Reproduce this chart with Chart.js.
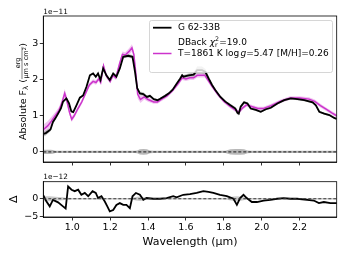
<!DOCTYPE html>
<html><head><meta charset="utf-8">
<script src="https://cdn.jsdelivr.net/npm/chart.js@4/dist/chart.umd.min.js"></script>
<style>
html,body{margin:0;padding:0;background:#fff;width:345px;height:259px;overflow:hidden}
#top{position:absolute;left:0;top:0}
#bot{position:absolute;left:0;top:170px}
</style></head><body>
<canvas id="top" width="345" height="170"></canvas>
<canvas id="bot" width="345" height="89"></canvas>
<script>
// ---------- DATA ----------
const xTicks = [1.0, 1.2, 1.4, 1.6, 1.8, 2.0, 2.2];
const yTicksTop = [0, 1, 2, 3];
const yTicksBot = [-5, 0];
const obsName = 'G 62-33B';
const fitName = 'DBack';
const chi2 = '19.0';
const modelName = 'T=1861 K log g=5.47 [M/H]=0.26';

// observed spectrum (1e-11)
const obsWave = [0.848,0.86,0.875,0.885,0.898,0.91,0.925,0.94,0.951,0.969,0.983,0.995,1.005,1.022,1.04,1.057,1.075,1.093,1.11,1.124,1.136,1.149,1.163,1.18,1.198,1.216,1.233,1.251,1.269,1.295,1.318,1.331,1.343,1.357,1.375,1.394,1.41,1.43,1.45,1.464,1.49,1.51,1.53,1.55,1.57,1.58,1.587,1.614,1.641,1.659,1.685,1.703,1.72,1.738,1.755,1.782,1.808,1.835,1.861,1.872,1.879,1.889,1.907,1.925,1.942,1.969,1.995,2.022,2.048,2.083,2.119,2.154,2.189,2.225,2.269,2.286,2.304,2.33,2.357,2.383,2.396];
const obsFlux = [0.50,0.52,0.58,0.62,0.83,0.92,1.06,1.20,1.39,1.48,1.34,1.12,1.10,1.29,1.50,1.56,1.80,2.12,2.17,2.08,2.17,1.99,2.31,2.12,1.99,2.17,2.08,2.31,2.63,2.66,2.63,2.22,1.76,1.62,1.60,1.52,1.55,1.46,1.43,1.47,1.55,1.62,1.72,1.88,2.03,2.12,2.08,2.12,2.14,2.26,2.26,2.21,2.03,1.85,1.71,1.52,1.39,1.29,1.20,1.08,1.06,1.25,1.37,1.34,1.20,1.16,1.11,1.18,1.22,1.34,1.43,1.48,1.46,1.43,1.37,1.29,1.11,1.06,1.02,0.94,0.91];
const obsErr = [0.08,0.07,0.06,0.05,0.05,0.04,0.04,0.04,0.04,0.04,0.04,0.04,0.03,0.03,0.03,0.03,0.03,0.03,0.03,0.03,0.03,0.03,0.03,0.03,0.03,0.03,0.03,0.03,0.04,0.05,0.05,0.05,0.05,0.05,0.05,0.04,0.04,0.03,0.03,0.03,0.03,0.03,0.03,0.03,0.04,0.05,0.05,0.05,0.06,0.10,0.10,0.08,0.05,0.04,0.03,0.03,0.03,0.04,0.04,0.05,0.05,0.05,0.04,0.03,0.03,0.03,0.03,0.03,0.03,0.03,0.03,0.03,0.03,0.03,0.03,0.03,0.03,0.03,0.03,0.03,0.03];
// noise level drawn around zero (1e-11)
const noiseLevel = [0.06,0.06,0.06,0.06,0.05,0.03,0.03,0.03,0.03,0.03,0.03,0.03,0.03,0.03,0.03,0.03,0.03,0.03,0.03,0.03,0.03,0.03,0.03,0.03,0.03,0.03,0.03,0.03,0.03,0.03,0.03,0.03,0.04,0.07,0.08,0.07,0.04,0.03,0.03,0.03,0.03,0.03,0.03,0.03,0.03,0.03,0.03,0.03,0.03,0.03,0.03,0.03,0.03,0.03,0.03,0.03,0.03,0.07,0.08,0.08,0.08,0.08,0.07,0.04,0.03,0.03,0.03,0.03,0.03,0.03,0.03,0.03,0.03,0.03,0.03,0.03,0.03,0.03,0.03,0.03,0.03];

// model spectrum (1e-11)
const modelWave = [0.848,0.87,0.89,0.91,0.93,0.945,0.96,0.97,0.985,0.997,1.01,1.03,1.05,1.07,1.09,1.11,1.125,1.14,1.15,1.165,1.18,1.2,1.215,1.23,1.25,1.265,1.28,1.3,1.315,1.325,1.335,1.345,1.36,1.38,1.4,1.43,1.45,1.47,1.5,1.53,1.56,1.58,1.6,1.62,1.64,1.66,1.68,1.7,1.715,1.74,1.77,1.8,1.83,1.86,1.88,1.9,1.92,1.95,1.98,2.01,2.05,2.1,2.15,2.2,2.25,2.28,2.31,2.34,2.37,2.396];
const modelFlux = [0.62,0.72,0.85,1.00,1.15,1.35,1.62,1.45,1.10,0.90,1.00,1.20,1.38,1.62,1.85,1.95,1.92,2.02,1.92,2.38,2.10,1.95,2.12,2.05,2.45,2.70,2.68,2.78,2.88,2.70,2.20,1.60,1.45,1.52,1.45,1.38,1.38,1.45,1.55,1.70,1.90,2.05,2.02,2.05,2.05,2.12,2.12,2.12,2.00,1.80,1.58,1.40,1.27,1.16,1.10,1.22,1.30,1.25,1.20,1.20,1.28,1.40,1.49,1.49,1.46,1.40,1.28,1.18,1.08,1.00];
const modelErr = [0.14,0.13,0.12,0.10,0.09,0.10,0.12,0.10,0.08,0.07,0.06,0.06,0.06,0.06,0.06,0.06,0.06,0.06,0.06,0.07,0.06,0.06,0.06,0.06,0.07,0.08,0.08,0.09,0.10,0.10,0.10,0.12,0.10,0.07,0.06,0.05,0.05,0.05,0.05,0.05,0.06,0.06,0.06,0.06,0.06,0.06,0.06,0.06,0.06,0.05,0.05,0.05,0.05,0.05,0.05,0.05,0.05,0.05,0.05,0.05,0.05,0.05,0.05,0.05,0.05,0.05,0.05,0.05,0.05,0.05];

// residuals (1e-12)
const residWave = [0.846,0.863,0.881,0.898,0.925,0.951,0.965,0.978,0.996,1.013,1.031,1.048,1.066,1.084,1.107,1.124,1.136,1.154,1.171,1.185,1.198,1.216,1.233,1.251,1.269,1.286,1.304,1.318,1.336,1.357,1.375,1.392,1.427,1.463,1.498,1.533,1.551,1.586,1.621,1.657,1.692,1.719,1.745,1.78,1.816,1.851,1.869,1.886,1.904,1.921,1.948,1.975,2.01,2.046,2.081,2.116,2.152,2.187,2.24,2.275,2.302,2.328,2.363,2.398];
const residVals = [1.1,-0.7,-2.1,-0.3,-1.0,-2.1,-2.7,3.4,2.5,2.1,2.5,1.1,1.6,0.7,2.1,1.6,0.2,0.7,-0.7,-2.1,-3.5,-3.1,-1.7,-1.2,-1.7,-1.7,-2.6,0.7,1.6,1.1,-0.3,0.2,0.0,0.0,0.2,0.7,0.4,1.1,1.3,1.6,2.1,1.9,1.6,1.1,0.7,0.0,-1.7,0.2,1.1,0.2,-0.9,-0.9,-0.5,-0.3,0.0,0.2,0.0,0.0,-0.3,-0.5,-1.2,-0.9,-1.2,-1.2];
const residErr = [0.7,0.7,0.7,0.6,0.5,0.4,0.3,0.3,0.2,0.2,0.2,0.2,0.2,0.2,0.2,0.2,0.2,0.2,0.2,0.2,0.2,0.2,0.2,0.2,0.2,0.2,0.2,0.3,0.5,0.6,0.5,0.3,0.2,0.2,0.2,0.2,0.2,0.2,0.2,0.2,0.2,0.2,0.2,0.2,0.3,0.6,0.7,0.6,0.4,0.2,0.2,0.2,0.2,0.2,0.2,0.2,0.2,0.2,0.2,0.2,0.2,0.2,0.2,0.2];

const xMin = 0.847, xMax = 2.396;
// ---------- END DATA ----------

const FONT = 'DejaVu Sans';
const BLACK = '#000000';
const MAG = '#cc33cc';
const pts = (xs, ys) => xs.map((x, i) => ({x, y: ys[i]}));
const band = (xs, ys, es, s) => xs.map((x, i) => ({x, y: ys[i] + s * es[i]}));
const zeros = (xs) => xs.map(() => 0);

const frame = {
  id: 'frame',
  afterDatasetsDraw(chart) {
    const a = chart.chartArea, c = chart.ctx;
    c.save(); c.strokeStyle = '#000'; c.lineWidth = 0.8;
    c.strokeRect(a.left, a.top, a.right - a.left, a.bottom - a.top);
    c.restore();
  }
};
function offsetText(txt) {
  return {
    id: 'offtxt',
    afterDraw(chart) {
      const c = chart.ctx; c.save();
      c.font = `7.3px ${FONT}`; c.fillStyle = '#000'; c.textBaseline = 'alphabetic';
      c.fillText(txt, chart.chartArea.left, chart.chartArea.top - 2.5);
      c.restore();
    }
  };
}
const yLabelTop = {
  id: 'ylab',
  afterDraw(chart) {
    const c = chart.ctx; c.save();
    c.fillStyle = '#000'; c.strokeStyle = '#000';
    const big = `9.5px ${FONT}`, small = `6.6px ${FONT}`, tiny = `4.8px ${FONT}`;
    const p1 = 'Absolute F', p2 = ' (', num = 'erg', den = 'μm s cm', p3 = ')';
    c.font = big; const w1 = c.measureText(p1).width, w2 = c.measureText(p2).width, w3 = c.measureText(p3).width;
    c.font = `7px ${FONT}`; const wl = c.measureText('λ').width;
    c.font = small; const wn = c.measureText(num).width, wd0 = c.measureText(den).width;
    c.font = tiny; const ws = c.measureText('2').width;
    const wd = wd0 + ws;
    const wf = Math.max(wn, wd) + 1;
    const total = w1 + wl + w2 + wf + w3;
    c.translate(22, 91.5); c.rotate(-Math.PI / 2);
    let x = -total / 2;
    c.textBaseline = 'alphabetic';
    c.font = big; c.fillText(p1, x, 3.5); x += w1;
    c.font = `7px ${FONT}`; c.fillText('λ', x, 5.5); x += wl;
    c.font = big; c.fillText(p2, x, 3.5); x += w2;
    c.font = small; c.fillText(num, x + (wf - wn) / 2, -1.6);
    c.fillText(den, x + (wf - wd) / 2, 6.3);
    c.font = tiny; c.fillText('2', x + (wf - wd) / 2 + wd0, 3.9);
    c.lineWidth = 0.5; c.beginPath(); c.moveTo(x, 0); c.lineTo(x + wf, 0); c.stroke();
    x += wf;
    c.font = big; c.fillText(p3, x, 3.5);
    c.restore();
  }
};
const legendPlugin = {
  id: 'leg',
  afterDraw(chart) {
    const c = chart.ctx; c.save();
    const L = 149.5, T = 20.5, W = 183, H = 52, r = 2;
    c.beginPath();
    c.moveTo(L + r, T); c.lineTo(L + W - r, T); c.quadraticCurveTo(L + W, T, L + W, T + r);
    c.lineTo(L + W, T + H - r); c.quadraticCurveTo(L + W, T + H, L + W - r, T + H);
    c.lineTo(L + r, T + H); c.quadraticCurveTo(L, T + H, L, T + H - r);
    c.lineTo(L, T + r); c.quadraticCurveTo(L, T, L + r, T); c.closePath();
    c.fillStyle = 'rgba(255,255,255,0.8)'; c.fill();
    c.strokeStyle = '#cccccc'; c.lineWidth = 0.8; c.stroke();
    const ds = chart.data.datasets;
    const tx = 178, fs = `9px ${FONT}`;
    c.textBaseline = 'middle'; c.fillStyle = '#000';
    // entry 1
    c.strokeStyle = ds[0].borderColor; c.lineWidth = ds[0].borderWidth;
    c.beginPath(); c.moveTo(153, 27.7); c.lineTo(171.5, 27.7); c.stroke();
    c.font = fs; c.fillText(obsName, tx, 28);
    // entry 2 (text only)
    let x = tx; const y2 = 43;
    c.fillText(fitName + ' ', x, y2); x += c.measureText(fitName + ' ').width;
    c.font = `italic 9px ${FONT}`; c.fillText('χ', x, y2); x += c.measureText('χ').width;
    c.font = `6.3px ${FONT}`; c.fillText('2', x, y2 - 3.3); c.fillText('r', x, y2 + 2.5);
    x += c.measureText('2').width + 0.3;
    c.font = fs; c.fillText('=' + chi2, x, y2);
    // entry 3
    c.strokeStyle = ds[1].borderColor; c.lineWidth = ds[1].borderWidth;
    c.beginPath(); c.moveTo(153, 53.5); c.lineTo(171.5, 53.5); c.stroke();
    const parts = modelName.split(' g=');
    x = tx; const y3 = 54;
    c.font = fs; c.fillText(parts[0] + ' ', x, y3); x += c.measureText(parts[0]).width + 1.2;
    c.font = `italic 9px ${FONT}`; c.fillText('g', x, y3); x += c.measureText('g').width;
    c.font = fs; c.fillText('=' + parts[1], x, y3);
    c.restore();
  }
};

function xScale(showLabels, h) {
  return {
    type: 'linear', min: xMin, max: xMax,
    afterBuildTicks: s => { s.ticks = xTicks.map(v => ({value: v})); },
    afterFit: s => { s.height = h; },
    grid: {drawOnChartArea: false, drawTicks: true, tickLength: 3.5, color: '#000', tickWidth: 0.8},
    border: {display: true, color: '#000', width: 0.8},
    ticks: {display: showLabels, font: {family: FONT, size: 9.5}, color: '#000', padding: 1.5, maxRotation: 0,
      callback: v => v.toFixed(1)},
    title: showLabels ? {display: true, text: 'Wavelength (μm)', color: '#000',
      font: {family: FONT, size: 11}, padding: {top: 0, bottom: 10.5}} : {display: false}
  };
}
function yScale(mn, mx, tk, title) {
  return {
    type: 'linear', min: mn, max: mx,
    afterBuildTicks: s => { s.ticks = tk.map(v => ({value: v})); },
    afterFit: s => { s.width = 43.3; },
    grid: {drawOnChartArea: false, drawTicks: true, tickLength: 3.5, color: '#000', tickWidth: 0.8},
    border: {display: true, color: '#000', width: 0.8},
    ticks: {font: {family: FONT, size: 9.5}, color: '#000', padding: 1.5,
      callback: v => (v < 0 ? '\u2212' + Math.abs(v) : String(v))},
    title: title ? {display: true, text: title, color: '#000', font: {family: FONT, size: 11}, padding: {top: 7.4, bottom: 0}} : {display: false}
  };
}
const common = {
  responsive: false, animation: false, devicePixelRatio: 1,
  plugins: {legend: {display: false}, tooltip: {enabled: false}},
  elements: {point: {radius: 0}, line: {tension: 0}}
};

new Chart(document.getElementById('top'), {
  type: 'line',
  data: {datasets: [
    {data: pts(obsWave, obsFlux), borderColor: BLACK, borderWidth: 1.8, fill: false, order: 1},
    {data: pts(modelWave, modelFlux), borderColor: MAG, borderWidth: 1.5, fill: false, order: 2},
    {data: band(obsWave, obsFlux, obsErr, 1), borderWidth: 0, fill: false, order: 3},
    {data: band(obsWave, obsFlux, obsErr, -1), borderWidth: 0, fill: 2, backgroundColor: 'rgba(170,170,170,0.7)', order: 3},
    {data: band(modelWave, modelFlux, modelErr, 1), borderWidth: 0, fill: false, order: 4},
    {data: band(modelWave, modelFlux, modelErr, -1), borderWidth: 0, fill: 4, backgroundColor: 'rgba(225,140,225,0.5)', order: 4},
    {data: band(obsWave, zeros(obsWave), noiseLevel, 1), borderWidth: 0, fill: false, order: 5},
    {data: band(obsWave, zeros(obsWave), noiseLevel, -1), borderWidth: 0, fill: 6, backgroundColor: 'rgba(160,160,160,0.75)', order: 5},
    {data: [{x: xMin, y: 0}, {x: xMax, y: 0}], borderColor: '#3a3a3a', borderWidth: 1.2, borderDash: [3, 2], fill: false, order: 0}
  ]},
  options: Object.assign({}, common, {
    layout: {padding: {left: 0, right: 8.3, top: 16, bottom: 0}},
    scales: {x: xScale(false, 8), y: yScale(-0.28, 3.76, yTicksTop, null)}
  }),
  plugins: [frame, offsetText('1e\u221211'), yLabelTop, legendPlugin]
});

new Chart(document.getElementById('bot'), {
  type: 'line',
  data: {datasets: [
    {data: pts(residWave, residVals), borderColor: BLACK, borderWidth: 1.8, fill: false, order: 1},
    {data: band(residWave, zeros(residWave), residErr, 1), borderWidth: 0, fill: false, order: 3},
    {data: band(residWave, zeros(residWave), residErr, -1), borderWidth: 0, fill: 1, backgroundColor: 'rgba(170,170,170,0.6)', order: 3},
    {data: [{x: xMin, y: 0}, {x: xMax, y: 0}], borderColor: '#3a3a3a', borderWidth: 1.2, borderDash: [3, 2], fill: false, order: 0}
  ]},
  options: Object.assign({}, common, {
    layout: {padding: {left: 0, right: 8.3, top: 11.7, bottom: 0}},
    scales: {x: xScale(true, 42), y: yScale(-5.05, 4.72, yTicksBot, '\u0394')}
  }),
  plugins: [frame, offsetText('1e\u221212')]
});
</script>
</body></html>
